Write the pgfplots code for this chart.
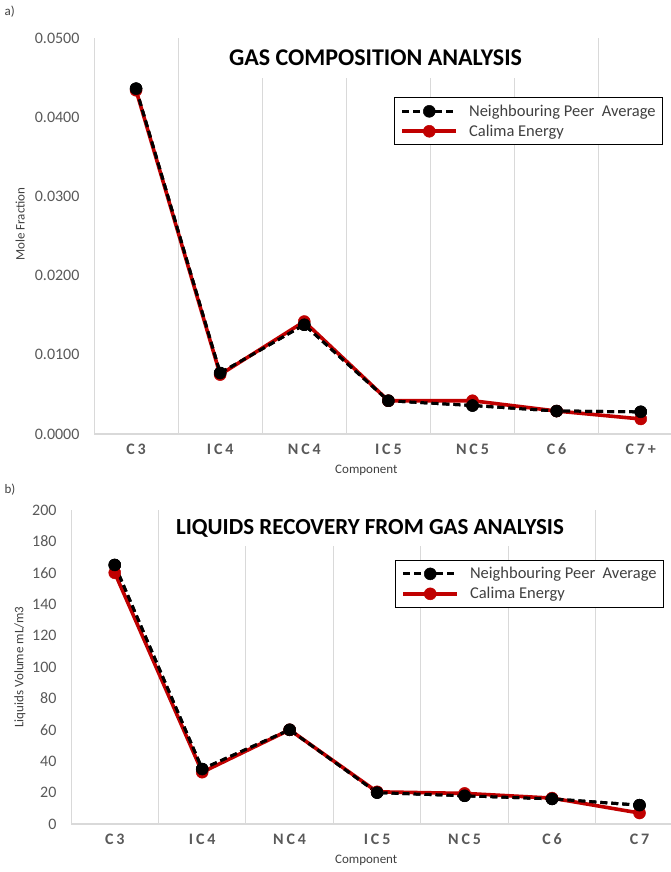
\documentclass[border=0pt]{standalone}
\usepackage{pgfplots}
\pgfplotsset{compat=1.18}
\usepackage{fontspec}
\setmainfont{Carlito}
\newfontfamily\catfont[LetterSpace=18]{Carlito}
\definecolor{gridgray}{HTML}{D9D9D9}
\definecolor{txtgray}{HTML}{595959}
\definecolor{legtxt}{HTML}{404040}
\definecolor{calred}{HTML}{C00000}

\pgfplotsset{
 mystyle/.style={
  scale only axis,
  xmin=-0.5, xmax=6.36, ymin=0,
  axis x line*=bottom, axis y line*=left,
  x axis line style={gridgray, line width=1.6pt, -},
  y axis line style={gridgray, line width=1pt, -},
  xtick={0,...,6},
  minor xtick={0.5,1.5,...,5.5},
  xminorgrids, minor grid style={gridgray, line width=1pt},
  major tick length=0pt, minor tick length=0pt,
  tick style={draw=none},
  scaled y ticks=false,
  /pgf/number format/assume math mode=true,
  yticklabel style={font=\fontsize{16}{19}\selectfont, text=txtgray, xshift=-11pt},
  xticklabel style={font=\fontsize{16}{19}\selectfont\catfont\bfseries, text=txtgray, yshift=-6pt},
  xlabel style={font=\fontsize{13}{15}\selectfont, text=legtxt},
  ylabel style={font=\fontsize{13}{15}\selectfont, text=legtxt},
  legend cell align=left,
  legend style={draw=black, line width=0.9pt, fill=white, anchor=north west,
    font=\fontsize{16.5}{20}\selectfont, text=legtxt, inner xsep=5pt, inner ysep=5pt,
    row sep=3pt},
  legend image code/.code={\path (-1pt,0pt) (63pt,0pt);\draw[mark repeat=2,mark phase=2,#1] plot coordinates {(0pt,0pt) (27pt,0pt) (54pt,0pt)};},
  clip=false,
 },
 blackser/.style={black, line width=3pt, dash pattern=on 7pt off 4pt, mark=*, mark size=6pt, mark options={solid, fill=black, line width=0.5pt}},
 redser/.style={calred, line width=3.6pt, mark=*, mark size=6pt, mark options={solid, fill=calred, line width=0.5pt}},
}

\begin{document}
\begin{tikzpicture}[x=1pt,y=1pt]
\useasboundingbox (0,0) rectangle (671,-872);

% ---------- a) ----------
\begin{axis}[mystyle,
  at={(94pt,-434pt)}, anchor=south west,
  width=577pt, height=396pt,
  ymax=0.05, ytick={0,0.01,...,0.05},
  y tick label style={/pgf/number format/fixed, /pgf/number format/fixed zerofill, /pgf/number format/precision=4},
  xticklabels={C3,IC4,NC4,IC5,NC5,C6,C7+},
  xlabel={Component}, xlabel style={at={(axis description cs:0.472,0)}, anchor=north, yshift=-28pt},
  ylabel={Mole Fraction}, ylabel style={at={(axis description cs:-0.128,0.53)}, anchor=center},
  legend style={at={(axis description cs:0.52,0.85)}},
]
\addplot[blackser] coordinates {(0,0.0436) (1,0.0077) (2,0.0138) (3,0.0042) (4,0.0036) (5,0.0029) (6,0.0028)};
\addlegendentry{Neighbouring Peer\ \ Average}
\addplot[redser] coordinates {(0,0.0434) (1,0.0075) (2,0.0142) (3,0.0042) (4,0.0042) (5,0.0029) (6,0.0019)};
\addlegendentry{Calima Energy}
\addplot[blackser, forget plot] coordinates {(0,0.0436) (1,0.0077) (2,0.0138) (3,0.0042) (4,0.0036) (5,0.0029) (6,0.0028)};
\end{axis}
\node[fill=white, inner xsep=15pt, inner ysep=0pt, minimum height=40pt, font=\bfseries\fontsize{24}{28}\selectfont] at (375.5,-58) {GAS COMPOSITION ANALYSIS};
\node[anchor=west, font=\fontsize{13}{15}\selectfont, text=legtxt] at (1,-12) {a)};

% ---------- b) ----------
\begin{axis}[mystyle,
  at={(71pt,-824pt)}, anchor=south west,
  width=600pt, height=314pt,
  ymax=200, ytick={0,20,...,200},
  xticklabels={C3,IC4,NC4,IC5,NC5,C6,C7},
  xlabel={Component}, xlabel style={at={(axis description cs:0.492,0)}, anchor=north, yshift=-28pt},
  ylabel={Liquids Volume mL/m3}, ylabel style={at={(axis description cs:-0.085,0.5)}, anchor=center},
  legend style={at={(axis description cs:0.54,0.841)}},
]
\addplot[blackser] coordinates {(0,165) (1,35) (2,60) (3,20) (4,18) (5,16) (6,12)};
\addlegendentry{Neighbouring Peer\ \ Average}
\addplot[redser] coordinates {(0,160) (1,33) (2,60) (3,20.5) (4,19.5) (5,16.5) (6,7)};
\addlegendentry{Calima Energy}
\addplot[blackser, forget plot] coordinates {(0,165) (1,35) (2,60) (3,20) (4,18) (5,16) (6,12)};
\end{axis}
\node[fill=white, inner xsep=12pt, inner ysep=0pt, minimum height=36pt, font=\bfseries\fontsize{23}{27}\selectfont] at (370,-528) {LIQUIDS RECOVERY FROM GAS ANALYSIS};
\node[anchor=west, font=\fontsize{13}{15}\selectfont, text=legtxt] at (1,-490) {b)};
\end{tikzpicture}
\end{document}
